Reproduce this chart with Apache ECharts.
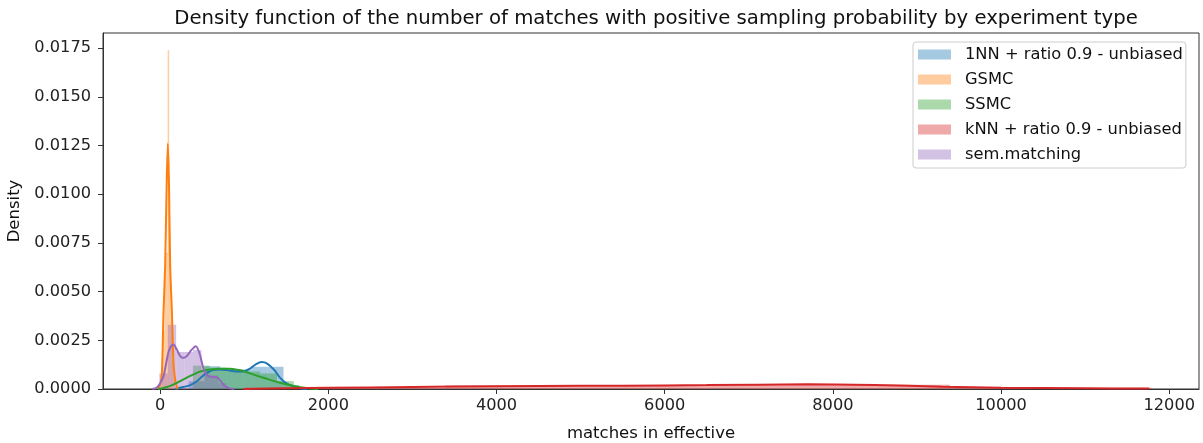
<!DOCTYPE html>
<html>
<head>
<meta charset="utf-8">
<script src="https://cdn.jsdelivr.net/npm/echarts@6/dist/echarts.min.js"></script>
<style>
html,body{margin:0;padding:0;background:#fff;}
#chart{width:1203px;height:443px;}
</style>
</head>
<body>
<div id="chart"></div>
<script>
// ---- Data ----
const seriesNames = ['1NN + ratio 0.9 - unbiased', 'GSMC', 'SSMC', 'kNN + ratio 0.9 - unbiased', 'sem.matching'];
const seriesColors = ['#1f77b4', '#ff7f0e', '#2ca02c', '#d62728', '#9467bd'];

const xTicks = [0, 2000, 4000, 6000, 8000, 10000, 12000];
const yTicks = [0, 0.0025, 0.005, 0.0075, 0.01, 0.0125, 0.015, 0.0175];

// Histogram bins: [left edge, right edge, density]
const hist1NN = [[338,526,0.0004],[526,714,0.00117],[714,902,0.0010],[902,1090,0.0010],[1090,1278,0.00114],[1278,1466,0.00114],[1466,1654,0.0002]];
const histGSMC = [[17,35,0.0005],[35,53,0.0030],[53,71,0.0060],[71,89,0.0070],[89,107,0.0174],[107,125,0.0065],[125,143,0.0035],[143,161,0.0015],[161,179,0.0005]];
const histSSMC = [[389,589,0.0012],[589,789,0.0011],[789,989,0.0010],[989,1189,0.0009],[1189,1389,0.0008],[1389,1589,0.0004],[1589,1789,0.0001]];
const histKNN = [[990,2190,0.00006],[2190,3390,0.00007],[3390,4590,0.00018],[4590,5790,0.00018],[5790,6990,0.00019],[6990,8190,0.00022],[8190,9390,0.00022],[9390,10590,0.00008],[10590,11790,0.00007]];
const histSem = [[-10,90,0.0008],[90,190,0.0033],[190,290,0.0019],[290,390,0.0019],[390,490,0.0020],[490,590,0.0009],[590,690,0.0007],[690,790,0.0003]];

// KDE curves: [x, density]
const kde1NN = [[178,0],[273,0.0001],[357,0.0002],[436,0.0004],[488,0.0006],[555,0.00083],[630,0.00097],[713,0.0010],[808,0.00096],[904,0.0009],[987,0.0009],[1070,0.00105],[1141,0.00128],[1209,0.00138],[1272,0.0013],[1356,0.00098],[1427,0.00057],[1498,0.0003],[1581,0.00014],[1665,0.00004],[1748,0]];
const kdeGSMC = [[-30,0],[0,0.0002],[20,0.0008],[40,0.0040],[59,0.0063],[75,0.0100],[91,0.0126],[105,0.0105],[119,0.0063],[139,0.0040],[160,0.0012],[185,0.0003],[210,0]];
const kdeSSMC = [[-24,0],[60,0.00008],[143,0.0002],[238,0.0004],[333,0.00062],[436,0.00083],[476,0.0009],[595,0.0010],[713,0.00104],[832,0.00104],[951,0.00096],[1070,0.0008],[1189,0.00063],[1308,0.00047],[1427,0.00032],[1546,0.00019],[1665,0.00009],[1784,0.00003],[1879,0]];
const kdeKNN = [[990,0],[1500,0.00004],[2500,0.00008],[3500,0.00013],[4500,0.00016],[5500,0.00017],[6500,0.0002],[7700,0.00024],[8500,0.0002],[9300,0.00012],[10000,0.00007],[11000,0.00004],[11760,0.00002]];
const kdeSem = [[-95,0],[-40,0.00008],[0,0.0003],[40,0.00066],[70,0.0013],[99,0.0019],[130,0.0022],[158,0.00228],[200,0.0020],[240,0.00168],[277,0.0016],[320,0.0017],[370,0.0020],[424,0.0022],[470,0.0018],[505,0.0012],[535,0.00083],[570,0.00066],[620,0.00062],[674,0.0006],[720,0.0004],[773,0.00014],[830,0.00003],[880,0]];

const histData = [hist1NN, histGSMC, histSSMC, histKNN, histSem];
const kdeData = [kde1NN, kdeGSMC, kdeSSMC, kdeKNN, kdeSem];

// ---- Chart ----
function hexA(hex, a) {
  const n = parseInt(hex.slice(1), 16);
  return 'rgba(' + ((n >> 16) & 255) + ',' + ((n >> 8) & 255) + ',' + (n & 255) + ',' + a + ')';
}
const FONT = 'DejaVu Sans';
const series = [];
seriesNames.forEach((name, i) => {
  const fill = hexA(seriesColors[i], 0.4);
  series.push({
    type: 'custom',
    name: name,
    itemStyle: { color: fill },
    encode: { x: [0, 1], y: 2 },
    data: histData[i],
    renderItem: function (params, api) {
      const p0 = api.coord([api.value(0), api.value(2)]);
      const p1 = api.coord([api.value(1), 0]);
      return {
        type: 'rect',
        shape: { x: p0[0], y: p0[1], width: p1[0] - p0[0], height: p1[1] - p0[1] },
        style: { fill: fill }
      };
    },
    silent: true
  });
  series.push({
    type: 'line',
    name: name + ' kde',
    data: kdeData[i],
    showSymbol: false,
    smooth: 0.3,
    lineStyle: { color: seriesColors[i], width: 2 },
    itemStyle: { color: seriesColors[i] },
    silent: true
  });
});

const chart = echarts.init(document.getElementById('chart'), null, { renderer: 'canvas' });
chart.setOption({
  animation: false,
  backgroundColor: '#fff',
  title: {
    text: 'Density function of the number of matches with positive sampling probability by experiment type',
    left: 651,
    textAlign: 'center',
    top: 4,
    textStyle: { fontFamily: FONT, fontSize: 19.7, fontWeight: 'normal', color: '#111' }
  },
  grid: { left: 103, right: 4, top: 33, bottom: 54, outerBoundsMode: 'none', containLabel: false, show: true, borderColor: '#333', borderWidth: 1, backgroundColor: 'transparent' },
  legend: {
    orient: 'vertical',
    left: 913,
    top: 42,
    data: seriesNames.map((n, i) => ({ name: n, icon: 'rect', itemStyle: { color: hexA(seriesColors[i], 0.4) } })),
    formatter: n => '{g|}' + n,
    itemWidth: 33,
    itemHeight: 10,
    itemGap: 8,
    padding: [4, 3, 5, 5],
    borderColor: '#ccc',
    borderWidth: 1,
    borderRadius: 3,
    backgroundColor: 'rgba(255,255,255,0.8)',
    textStyle: { fontFamily: FONT, fontSize: 16.3, lineHeight: 17, color: '#111', rich: { g: { width: 9 } } },
    selectedMode: false
  },
  xAxis: {
    type: 'value',
    min: -680,
    max: 12354,
    name: 'matches in effective',
    nameLocation: 'middle',
    nameGap: 36,
    nameTextStyle: { fontFamily: FONT, fontSize: 16.5, color: '#111' },
    axisLine: { show: true, onZero: false, lineStyle: { color: '#333' } },
    axisTick: { show: true, length: 5, lineStyle: { color: '#333' }, customValues: xTicks },
    axisLabel: { fontFamily: FONT, fontSize: 16.2, color: '#222', margin: 9, customValues: xTicks, formatter: v => String(v) },
    splitLine: { show: false }
  },
  yAxis: {
    type: 'value',
    min: 0,
    max: 0.01828,
    name: 'Density',
    nameLocation: 'middle',
    nameGap: 77,
    nameTextStyle: { fontFamily: FONT, fontSize: 16.5, color: '#111' },
    axisLine: { show: true, onZero: false, lineStyle: { color: '#333' } },
    axisTick: { show: true, length: 5, lineStyle: { color: '#333' }, customValues: yTicks },
    axisLabel: { fontFamily: FONT, fontSize: 16.2, color: '#222', margin: 12, customValues: yTicks, formatter: v => v.toFixed(4) },
    splitLine: { show: false }
  },
  series: series
});
</script>
</body>
</html>
